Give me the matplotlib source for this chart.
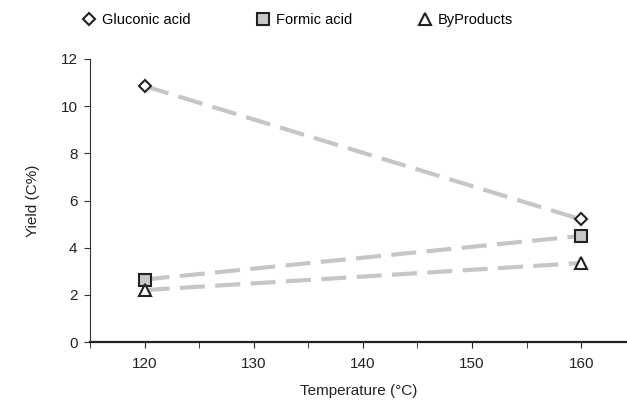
import matplotlib
matplotlib.use("Agg")
import matplotlib.pyplot as plt
from matplotlib.ticker import MultipleLocator

temps = [120, 160]
gluconic = [10.85, 5.2]
formic = [2.65, 4.5]
byproducts = [2.2, 3.35]

plt.rcParams['font.family'] = ['Liberation Sans', 'DejaVu Sans']
fig = plt.figure(figsize=(6.27, 4.03), dpi=100)
ax = fig.add_axes([90/627, 1-342/403, 1-90/627, (342-59)/403])

series = [
    (gluconic, 'D', 'white', 'Gluconic acid', 6),
    (formic, 's', '#c8c8c8', 'Formic acid', 8),
    (byproducts, '^', 'white', 'ByProducts', 8),
]
for vals, m, fc, lab, ms in series:
    ax.plot(temps, vals, color='#c6c6c6', lw=3, dashes=(6, 2.5),
            marker=m, markersize=ms, markerfacecolor=fc,
            markeredgecolor='#222222', markeredgewidth=1.5, label=lab)

ax.set_xlim(115, 164.2)
ax.set_ylim(0, 12)
ax.xaxis.set_major_locator(MultipleLocator(10))
ax.xaxis.set_minor_locator(MultipleLocator(5))
ax.yaxis.set_major_locator(MultipleLocator(2))
for s in ['top', 'right']:
    ax.spines[s].set_visible(False)
ax.spines['left'].set_color('#333333')
ax.spines['bottom'].set_color('#222222')
ax.spines['bottom'].set_linewidth(1.6)
ax.tick_params(axis='x', which='both', direction='out', length=4, colors='#222222',
               labelsize=11, pad=7)
ax.tick_params(axis='y', direction='out', length=4, color='#333333', labelsize=11,
               labelcolor='#222222', pad=5)
ax.set_xlabel('Temperature (°C)', fontsize=11, color='#222222', labelpad=9)
ax.set_ylabel('Yield (C%)', fontsize=11, color='#222222', labelpad=15)

leg = fig.legend(loc='upper left', bbox_to_anchor=(69/627, 1.0), ncol=3, frameon=False,
                 fontsize=10.5, handlelength=1, columnspacing=4.5, handletextpad=0.35)
for h in leg.legend_handles:
    h.set_linestyle('none')

fig.savefig('out.png', dpi=100)
